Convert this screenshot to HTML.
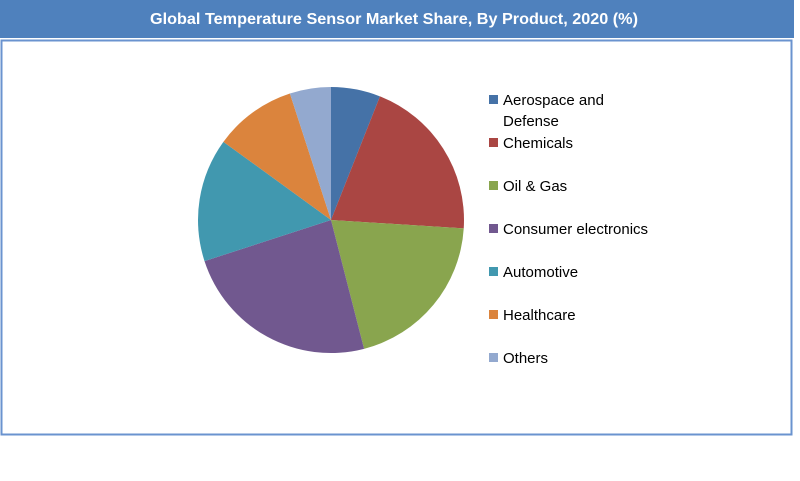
<!DOCTYPE html>
<html><head><meta charset="utf-8"><style>
html,body{margin:0;padding:0;background:#fff;}
svg{display:block;font-family:"Liberation Sans",sans-serif;}
</style></head><body>
<svg id="chart" width="800" height="481" viewBox="0 0 800 481">
  <rect x="0" y="0" width="794" height="38" fill="#4F81BD"/>
  <text x="394" y="24" text-anchor="middle" fill="#fff" font-size="16" font-weight="bold" textLength="488" lengthAdjust="spacingAndGlyphs">Global Temperature Sensor Market Share, By Product, 2020 (%)</text>
  <rect x="1.5" y="40.5" width="790" height="394" fill="#fff" stroke="#6A93CF" stroke-width="2"/>
  <g id="slices"></g>
  <g id="legend"></g>
</svg>
<script>
const categories = ["Aerospace and Defense","Chemicals","Oil & Gas","Consumer electronics","Automotive","Healthcare","Others"];
const shares = [6, 20, 20, 24, 15, 10, 5];
const colors = ["#4572A7","#AA4643","#89A54E","#71588F","#4198AF","#DB843D","#93A9CF"];
const NS = "http://www.w3.org/2000/svg";
const cx = 331, cy = 220, r = 133;
const total = shares.reduce((a,b)=>a+b,0);
const sg = document.getElementById('slices');
let acc = 0;
function pt(frac){const a = frac*2*Math.PI; return [cx + r*Math.sin(a), cy - r*Math.cos(a)];}
shares.forEach((v,i)=>{
  const f0 = acc/total, f1 = (acc+v)/total; acc += v;
  const p0 = pt(f0), p1 = pt(f1);
  const large = (f1-f0) > 0.5 ? 1 : 0;
  const p = document.createElementNS(NS,'path');
  p.setAttribute('d',`M${cx},${cy} L${p0[0]},${p0[1]} A${r},${r} 0 ${large} 1 ${p1[0]},${p1[1]} Z`);
  p.setAttribute('fill',colors[i]);
  
  
  sg.appendChild(p);
});
const lg = document.getElementById('legend');
categories.forEach((c,i)=>{
  const y = 100 + i*43;
  const g = document.createElementNS(NS,'g');
  
  
  const s = document.createElementNS(NS,'rect');
  s.setAttribute('x',489); s.setAttribute('y',y-5); s.setAttribute('width',9); s.setAttribute('height',9);
  s.setAttribute('fill',colors[i]);
  g.appendChild(s);
  const lines = c === "Aerospace and Defense" ? ["Aerospace and","Defense"] : [c];
  lines.forEach((ln,j)=>{
    const t = document.createElementNS(NS,'text');
    t.setAttribute('x',503); t.setAttribute('y',y+5+j*21);
    t.setAttribute('font-size','15'); t.setAttribute('fill','#000');
    t.textContent = ln;
    g.appendChild(t);
  });
  lg.appendChild(g);
});
</script>
</body></html>
